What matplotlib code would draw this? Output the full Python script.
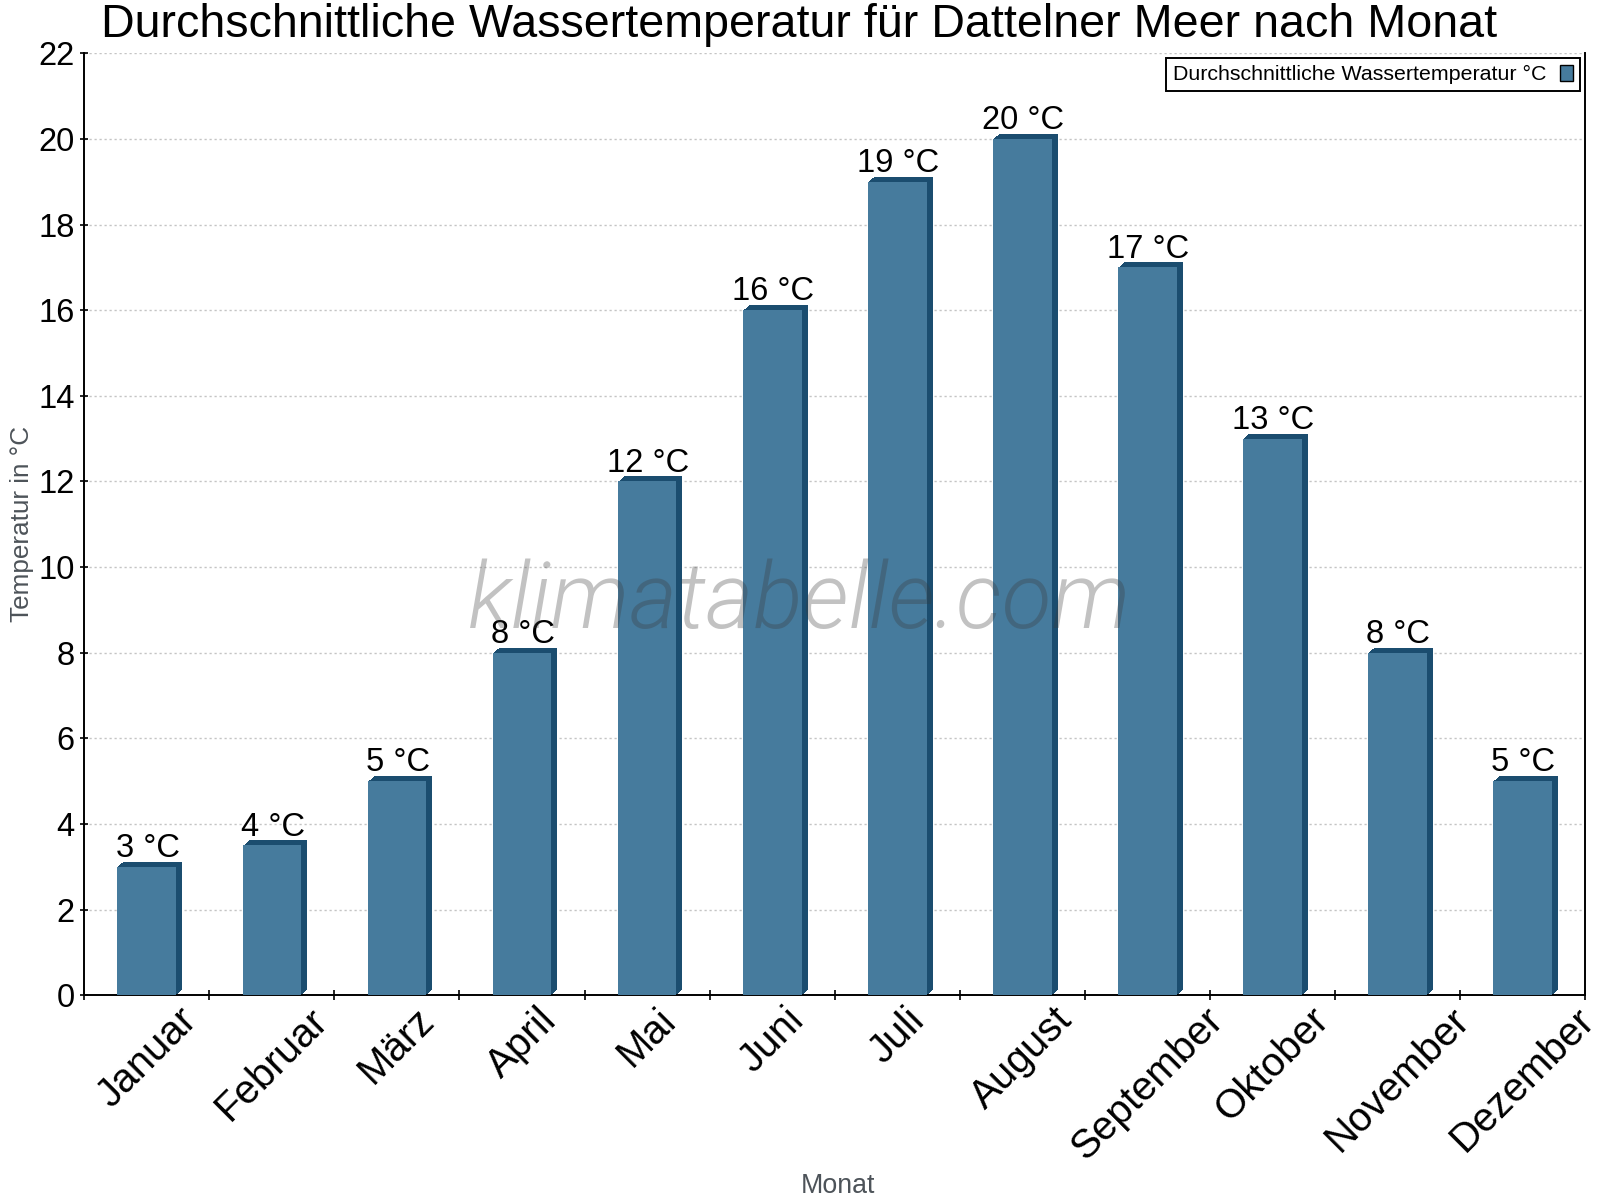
import matplotlib
matplotlib.use("Agg")
import matplotlib.pyplot as plt
from matplotlib import font_manager
from matplotlib.transforms import offset_copy
import numpy as np

plt.rcParams['font.family'] = ['Liberation Sans', 'DejaVu Sans']

months = ['Januar', 'Februar', 'März', 'April', 'Mai', 'Juni', 'Juli',
          'August', 'September', 'Oktober', 'November', 'Dezember']
water_temp = [3, 3.5, 5, 8, 12, 16, 19, 20, 17, 13, 8, 5]
temp_labels = ['3 °C', '4 °C', '5 °C', '8 °C', '12 °C', '16 °C', '19 °C',
               '20 °C', '17 °C', '13 °C', '8 °C', '5 °C']
y_ticks = list(range(0, 23, 2))

face_col = '#467b9d'
side_col = '#1b4d6f'

fig = plt.figure(figsize=(16, 12), dpi=100)
ax = fig.add_axes([0.0527, 0.1706, 0.9379, 0.785])

x = np.arange(len(months))
bw = 0.47

# pseudo 3d: dark extrusion drawn as shifted copies behind the face
for k in range(1, 7):
    tr = offset_copy(ax.transData, fig=fig, x=k, y=k * 5 / 6, units='dots')
    ax.bar(x, water_temp, width=bw, color=side_col, linewidth=0,
           transform=tr, zorder=2)
bars = ax.bar(x, water_temp, width=bw, color=face_col, linewidth=0, zorder=3,
              label='Durchschnittliche Wassertemperatur °C')

for xi, v, t in zip(x, water_temp, temp_labels):
    ax.annotate(t, (xi, v), xytext=(0.5, 7), textcoords='offset points',
                ha='center', va='baseline', fontsize=23.5, color='black', zorder=5)

ax.set_xlim(-0.5, 11.5)
ax.set_ylim(0, 22)
ax.set_yticks(y_ticks)
ax.yaxis.grid(True, color='#c4c4c4', linestyle=(0, (1.6, 2.0)), linewidth=1)
ax.set_axisbelow(True)

ax.set_xticks(x)
ax.set_xticklabels(months, rotation=45, ha='center', va='top',
                   rotation_mode='default', fontsize=29)
ax.set_xticks(np.arange(-0.5, 12, 1), minor=True)
ax.tick_params(axis='x', which='major', length=0, pad=4)
ax.tick_params(axis='x', which='minor', direction='inout', length=6.5, width=1.2)
ax.tick_params(axis='y', direction='inout', length=6, width=1.2, labelsize=23.5, pad=4)

for s in ['left', 'bottom', 'right']:
    ax.spines[s].set_linewidth(1.4)
ax.spines['top'].set_visible(False)

leg = ax.legend(loc='upper right', bbox_to_anchor=(0.9967, 0.9953), borderaxespad=0,
                fontsize=15.4, markerfirst=False, fancybox=False, framealpha=1,
                edgecolor='black', handlelength=0.62, handleheight=0.8,
                handletextpad=0.6, borderpad=0.33)
leg.get_frame().set_linewidth(1.4)
leg.legend_handles[0].set_edgecolor('black')
leg.legend_handles[0].set_linewidth(1)

fig.text(0.4995, 0.969, 'Durchschnittliche Wassertemperatur für Dattelner Meer nach Monat',
         ha='center', va='baseline', fontsize=33.6)
fig.text(0.0135, 0.563, 'Temperatur in °C', rotation=90, ha='center', va='center',
         fontsize=18.8, color='#4d5359')
fig.text(0.524, 0.0118, 'Monat', ha='center', va='center', fontsize=19.3, color='#4d5359')

# watermark in Roboto Light Italic if present
wm_font = font_manager.FontProperties(family='Roboto', style='italic', weight=300, size=66)
for f in font_manager.fontManager.ttflist:
    if f.fname.endswith('Roboto-LightItalic.ttf'):
        wm_font = font_manager.FontProperties(fname=f.fname, size=66)
        break
fig.text(0.5, 0.4767, 'klimatabelle.com', fontproperties=wm_font,
         color='#3a3a3a', alpha=0.31, ha='center', va='baseline', zorder=10)

fig.savefig('out.png', dpi=100)
